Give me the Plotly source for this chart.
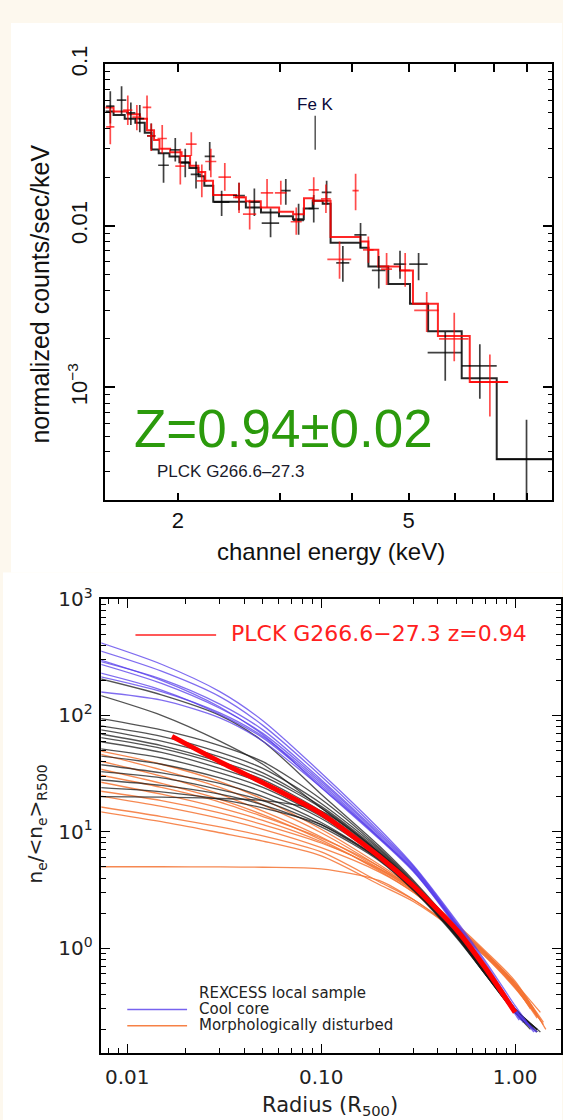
import math
import plotly.graph_objects as go

W, H = 563, 1120
def PX(x): return x / W
def PY(y): return 1 - y / H

# ---------------- top panel: X-ray spectrum ----------------
blk_model_edges = [1.50, 1.55, 1.62, 1.69, 1.754, 1.802, 1.854, 1.935, 2.013, 2.094, 2.17, 2.222, 2.302, 2.62, 2.782,
                   2.988, 3.158, 3.297, 3.416, 3.554, 3.667, 4.128, 4.261, 4.61, 5.025, 5.40, 6.17, 7.09, 8.84]
blk_model_vals = [0.051, 0.0485, 0.046, 0.0435, 0.0376, 0.0297, 0.0281, 0.0269, 0.0247, 0.0228, 0.0203, 0.0177, 0.0141,
                  0.0130, 0.0121, 0.01146, 0.0110, 0.0128, 0.0143, 0.0137, 0.00785, 0.00732, 0.00561, 0.00436, 0.0033,
                  0.00223, 0.00114, 0.00036]
red_model_edges = [1.50, 1.55, 1.64, 1.72, 1.77, 1.82, 1.86, 1.94, 2.03, 2.10, 2.17, 2.23, 2.30, 2.52, 2.62, 2.78, 2.99,
                   3.16, 3.30, 3.42, 3.667, 4.128, 4.261, 4.432, 4.83, 5.085, 5.614, 6.37, 7.41]
red_model_vals = [0.054, 0.051, 0.049, 0.046, 0.039, 0.034, 0.030, 0.0285, 0.027, 0.0235, 0.0215, 0.019, 0.0155, 0.0150,
                  0.0142, 0.0130, 0.0122, 0.0118, 0.0148, 0.0143, 0.00854, 0.0080, 0.0071, 0.00561, 0.0053, 0.0033,
                  0.00208, 0.00108]

blk_E = [1.53, 1.60, 1.66, 1.72, 1.80, 1.89, 1.98, 2.06, 2.15, 2.27, 2.38, 2.55, 2.71, 2.89, 3.07, 3.23, 3.43, 3.61,
         3.85, 4.13, 4.44, 4.83, 5.20, 5.78, 6.63, 7.98]
blk_dE = [0.025, 0.03, 0.03, 0.03, 0.03, 0.04, 0.04, 0.04, 0.045, 0.045, 0.075, 0.06, 0.06, 0.1, 0.06, 0.07, 0.07, 0.07,
          0.1, 0.1, 0.12, 0.12, 0.19, 0.39, 0.46, 0.9]
blk_v = [0.055, 0.060, 0.050, 0.046, 0.036, 0.0237, 0.0295, 0.0245, 0.0208, 0.0269, 0.0140, 0.0154, 0.0140, 0.0104,
         0.0165, 0.0108, 0.0128, 0.0161, 0.0059, 0.0088, 0.0053, 0.0058, 0.0058, 0.00164, 0.00136, 0.00036]
blk_lo = [0.043, 0.049, 0.042, 0.038, 0.030, 0.0185, 0.025, 0.020, 0.017, 0.022, 0.0115, 0.0125, 0.0115, 0.0085, 0.0135,
          0.0088, 0.0105, 0.0135, 0.0045, 0.0073, 0.0041, 0.0047, 0.0046, 0.0011, 0.00085, 0.00015]
blk_hi = [0.068, 0.073, 0.058, 0.056, 0.043, 0.028, 0.035, 0.030, 0.025, 0.033, 0.0165, 0.0185, 0.017, 0.0128, 0.0195,
          0.0137, 0.0155, 0.019, 0.0075, 0.0104, 0.0065, 0.0070, 0.0068, 0.0022, 0.00185, 0.00063]

red_E = [1.53, 1.64, 1.70, 1.77, 1.80, 1.88, 2.02, 2.11, 2.20, 2.28, 2.41, 2.55, 2.66, 2.85, 3.01, 3.20, 3.43, 3.60,
         3.80, 4.05, 4.26, 4.58, 4.93, 5.37, 5.99, 6.90]
red_dE = [0.025, 0.03, 0.03, 0.03, 0.03, 0.035, 0.04, 0.045, 0.045, 0.05, 0.06, 0.06, 0.07, 0.07, 0.07, 0.07, 0.07, 0.07,
          0.18, 0.05, 0.09, 0.1, 0.1, 0.26, 0.35, 0.52]
red_v = [0.041, 0.052, 0.047, 0.054, 0.036, 0.0347, 0.0234, 0.0320, 0.019, 0.025, 0.0200, 0.0150, 0.0118, 0.0160, 0.0160,
         0.0106, 0.0167, 0.0147, 0.0062, 0.0165, 0.0071, 0.0054, 0.0053, 0.0030, 0.0020, 0.00108]
red_lo = [0.032, 0.042, 0.039, 0.045, 0.029, 0.028, 0.018, 0.027, 0.015, 0.020, 0.0165, 0.012, 0.0095, 0.013, 0.0135,
          0.0088, 0.0135, 0.012, 0.0047, 0.0125, 0.0059, 0.0043, 0.0042, 0.0022, 0.00145, 0.00066]
red_hi = [0.053, 0.064, 0.056, 0.064, 0.043, 0.042, 0.030, 0.038, 0.024, 0.030, 0.0245, 0.0185, 0.0145, 0.0195, 0.019,
          0.013, 0.020, 0.018, 0.0080, 0.021, 0.0086, 0.0068, 0.0068, 0.0039, 0.0029, 0.0016]

fe_k_energy = 3.45
fe_k_tip = 0.0296
top_xticks = [2, 5]
top_xticktext = ["2", "5"]
top_xminor = [3, 4, 6, 7, 8]
top_yticks = [1e-3, 1e-2, 1e-1]
top_yticktext = ["10<sup>−3</sup>", "0.01", "0.1"]

# ---------------- bottom panel: density profiles ----------------
R_GRID = [0.007, 0.015, 0.03, 0.05, 0.1, 0.2, 0.3, 0.5, 0.7, 1.0]

cool_core = [
    [430, 275, 160, 90, 32, 10.5, 5.1, 1.7, 0.78, 0.32],
    [365, 240, 145, 82, 30, 10.0, 5.0, 1.65, 0.75, 0.30],
    [295, 205, 125, 75, 28, 9.6, 4.9, 1.6, 0.72, 0.29],
    [280, 188, 115, 70, 27, 9.3, 4.8, 1.6, 0.70, 0.29],
    [218, 160, 105, 66, 26, 9.0, 4.7, 1.55, 0.68, 0.28],
    [160, 135, 95, 60, 24, 8.8, 4.6, 1.5, 0.68, 0.29],
    [305, 200, 118, 68, 24, 8.6, 4.5, 1.55, 0.70, 0.30],
    [235, 165, 102, 64, 25, 8.8, 4.6, 1.55, 0.66, 0.27],
]
cool_core_end = [(1.2, 0.21), (1.25, 0.19), (1.1, 0.23), (1.3, 0.19), (1.07, 0.24), (1.28, 0.19), (1.15, 0.22), (1.05, 0.24)]

rexcess = [
    [209, 150, 100, 60, 21, 7.5, 3.8, 1.42, 0.66, 0.30],
    [151, 100, 60, 38, 16, 6.5, 3.5, 1.35, 0.63, 0.29],
    [95, 75, 55, 40, 19, 7.2, 3.7, 1.40, 0.66, 0.30],
    [82, 66, 48, 35, 17.5, 7.0, 3.6, 1.38, 0.65, 0.30],
    [76, 60, 44, 32, 16.5, 6.8, 3.55, 1.36, 0.64, 0.29],
    [70, 55, 40, 30, 16, 6.6, 3.5, 1.35, 0.63, 0.29],
    [65, 52, 38, 28, 15, 6.4, 3.45, 1.33, 0.64, 0.30],
    [60, 48, 35, 26, 14, 6.2, 3.4, 1.30, 0.62, 0.28],
    [52, 43, 32, 24, 13.5, 6.1, 3.35, 1.30, 0.62, 0.29],
    [45, 38, 29, 22, 13, 6.0, 3.3, 1.28, 0.61, 0.28],
    [38, 32, 26, 20, 12, 5.8, 3.2, 1.25, 0.60, 0.29],
    [33, 29, 23, 18.5, 11.5, 5.7, 3.15, 1.25, 0.60, 0.28],
    [28, 25, 21, 17, 11, 5.6, 3.1, 1.22, 0.60, 0.28],
    [20, 19.8, 19.3, 18.5, 15, 6.6, 3.5, 1.30, 0.60, 0.28],
    [24, 22, 19, 16, 11.5, 5.8, 3.2, 1.25, 0.61, 0.29],
]
rexcess_end = [(1.25, 0.2), (1.2, 0.21), (1.3, 0.2), (1.35, 0.19), (1.2, 0.21), (1.3, 0.2), (1.25, 0.21), (1.15, 0.22),
               (1.3, 0.2), (1.2, 0.2), (1.3, 0.19), (1.25, 0.2), (1.2, 0.21), (1.3, 0.19), (1.25, 0.2)]

disturbed = [
    [50, 38, 27, 19, 10.5, 5.2, 3.3, 1.6, 0.95, 0.52],
    [47, 34, 24, 17, 9.8, 5.0, 3.2, 1.55, 0.92, 0.50],
    [41, 30, 21, 15, 9, 4.8, 3.1, 1.5, 0.90, 0.48],
    [31, 24, 18, 13.5, 8.8, 5.0, 3.2, 1.55, 0.92, 0.50],
    [22.5, 18.5, 14.5, 11.5, 8, 4.8, 3.2, 1.5, 0.90, 0.48],
    [20.5, 16.5, 13, 10.5, 7.3, 4.5, 3.0, 1.45, 0.88, 0.46],
    [16.5, 13.5, 11, 9.2, 6.7, 3.7, 2.6, 1.4, 0.87, 0.47],
    [15, 12.2, 9.8, 8.3, 6.2, 3.5, 2.5, 1.38, 0.85, 0.45],
    [5, 5, 4.98, 4.95, 4.8, 3.8, 2.6, 1.38, 0.85, 0.46],
    [35, 26, 19, 14, 8.5, 4.6, 3.0, 1.48, 0.90, 0.50],
    [27, 21, 16, 12.5, 8.2, 4.7, 3.1, 1.5, 0.90, 0.48],
]
disturbed_end = [(1.44, 0.2), (1.35, 0.28), (1.3, 0.26), (1.25, 0.3), (1.4, 0.22), (1.3, 0.26), (1.2, 0.3), (1.35, 0.24),
                 (1.3, 0.25), (1.4, 0.23), (1.3, 0.27)]

plck_r = [0.017, 0.03, 0.054, 0.1, 0.2, 0.3, 0.5, 0.7, 1.0]
plck_n = [66, 40, 24.7, 14.3, 6.1, 3.4, 1.43, 0.68, 0.28]

bot_xticks = [0.01, 0.1, 1.0]
bot_xticktext = ["0.01", "0.10", "1.00"]
bot_yticks = [1, 10, 100, 1000]
bot_yticktext = ["10<sup>0</sup>", "10<sup>1</sup>", "10<sup>2</sup>", "10<sup>3</sup>"]

# ---------------- figure ----------------
fig = go.Figure()

fig.add_trace(go.Scatter(x=blk_model_edges, y=blk_model_vals + [blk_model_vals[-1]], mode="lines", line_shape="hv",
                         line=dict(color="rgba(0,0,0,0.85)", width=2), xaxis="x", yaxis="y", showlegend=False))
fig.add_trace(go.Scatter(x=red_model_edges, y=red_model_vals + [red_model_vals[-1]], mode="lines", line_shape="hv",
                         line=dict(color="rgba(255,0,0,0.85)", width=2), xaxis="x", yaxis="y", showlegend=False))

def cross_trace(E, dE, v, lo, hi, color):
    return go.Scatter(
        x=E, y=v, mode="markers", marker=dict(size=1, color=color, opacity=0),
        error_x=dict(type="data", array=dE, color=color, thickness=1.7, width=0),
        error_y=dict(type="data", symmetric=False, array=[h - c for h, c in zip(hi, v)],
                     arrayminus=[c - l for c, l in zip(v, lo)], color=color, thickness=1.7, width=0),
        xaxis="x", yaxis="y", showlegend=False)

fig.add_trace(cross_trace(blk_E, blk_dE, blk_v, blk_lo, blk_hi, "rgba(0,0,0,0.75)"))
fig.add_trace(cross_trace(red_E, red_dE, red_v, red_lo, red_hi, "rgba(255,0,0,0.7)"))

def prof(vals, end, color, width=1.3):
    return go.Scatter(x=R_GRID + [end[0]], y=vals + [end[1]], mode="lines",
                      line=dict(color=color, width=width, shape="spline", smoothing=0.8),
                      xaxis="x2", yaxis="y2", showlegend=False)

for vals, end in zip(disturbed, disturbed_end):
    fig.add_trace(prof(vals, end, "rgba(245,115,50,0.85)"))
for vals, end in zip(rexcess, rexcess_end):
    fig.add_trace(prof(vals, end, "rgba(25,25,25,0.75)"))
for vals, end in zip(cool_core, cool_core_end):
    fig.add_trace(prof(vals, end, "rgba(85,60,235,0.75)"))
fig.add_trace(go.Scatter(x=plck_r, y=plck_n, mode="lines",
                         line=dict(color="#ff0000", width=5, shape="spline", smoothing=0.6),
                         xaxis="x2", yaxis="y2", showlegend=False))

top_font = dict(family="Liberation Sans, Arial, sans-serif", color="#111111")
bot_font = dict(family="DejaVu Sans, sans-serif", color="#222222")

def minor_vals(e0, e1):
    return [m * 10 ** e for e in range(e0, e1) for m in range(2, 10)]

axis_common = dict(type="log", showgrid=False, zeroline=False, showline=True, linecolor="black",
                   mirror="ticks", ticks="inside", tickcolor="black")

fig.update_layout(
    width=W, height=H, margin=dict(l=0, r=0, t=0, b=0),
    paper_bgcolor="#fdf8ee", plot_bgcolor="white", showlegend=False,
    xaxis=dict(axis_common, domain=[105.5 / W, 553.3 / W], anchor="y",
               range=[math.log10(1.5), math.log10(8.84)], linewidth=1.5, tickwidth=1.5, ticklen=8,
               tickvals=top_xticks, ticktext=top_xticktext, tickfont=dict(top_font, size=22),
               ticklabelstandoff=-1,
               minor=dict(ticks="inside", ticklen=8, tickwidth=1.5, tickcolor="black",
                          tickvals=top_xminor, showgrid=False)),
    yaxis=dict(axis_common, domain=[PY(489.7), PY(46)], anchor="x",
               range=[math.log10(2e-4), -1], linewidth=1.5, tickwidth=1.5, ticklen=10,
               tickvals=top_yticks, ticktext=top_yticktext, tickangle=-90, tickfont=dict(top_font, size=22),
               ticklabelstandoff=8,
               minor=dict(ticks="inside", ticklen=5, tickwidth=1.2, tickcolor="black",
                          tickvals=minor_vals(-4, -1), showgrid=False)),
    xaxis2=dict(axis_common, domain=[101.5 / W, 562 / W], anchor="y2",
                range=[-2.134, 0.2367], linewidth=1.5, tickwidth=1.3, ticklen=9,
                tickvals=bot_xticks, ticktext=bot_xticktext, tickfont=dict(bot_font, size=20),
                ticklabelstandoff=5,
                minor=dict(ticks="inside", ticklen=5, tickwidth=1.1, tickcolor="black",
                           tickvals=minor_vals(-3, 1), showgrid=False)),
    yaxis2=dict(axis_common, domain=[PY(1052), PY(590)], anchor="x2",
                range=[-0.903, 3], linewidth=1.5, tickwidth=1.3, ticklen=9,
                tickvals=bot_yticks, ticktext=bot_yticktext, tickfont=dict(bot_font, size=20),
                ticklabelstandoff=3,
                minor=dict(ticks="inside", ticklen=5, tickwidth=1.1, tickcolor="black",
                           tickvals=minor_vals(-1, 3), showgrid=False)),
)

shapes = [
    dict(type="rect", xref="paper", yref="paper", x0=PX(11), x1=1, y0=PY(563), y1=PY(4),
         fillcolor="white", line=dict(width=0), layer="below"),
    dict(type="rect", xref="paper", yref="paper", x0=PX(3), x1=1, y0=0, y1=PY(563),
         fillcolor="white", line=dict(width=0), layer="below"),
    dict(type="line", xref="paper", yref="paper", x0=PX(135.7), x1=PX(216.5), y0=PY(626.7), y1=PY(626.7),
         line=dict(color="#ff2020", width=1.5)),
    dict(type="line", xref="paper", yref="paper", x0=PX(127.5), x1=PX(187.4), y0=PY(1007.7), y1=PY(1007.7),
         line=dict(color="rgba(85,60,235,0.8)", width=1.5)),
    dict(type="line", xref="paper", yref="paper", x0=PX(127.5), x1=PX(187.4), y0=PY(1024), y1=PY(1024),
         line=dict(color="rgba(245,115,50,0.9)", width=1.5)),
]
fig.update_layout(shapes=shapes)

ann = [
    dict(text="normalized counts/sec/keV", x=PX(40.4), y=PY(280), textangle=-90, font=dict(top_font, size=25)),
    dict(text="channel energy (keV)", x=PX(331.2), y=PY(541.7), font=dict(top_font, size=24)),
    dict(text="Z=0.94±0.02", x=PX(284.5), y=PY(416.7), font=dict(family="Liberation Sans, Arial, sans-serif",
                                                                  size=53, color="#2b9a0c")),
    dict(text="PLCK G266.6–27.3", x=PX(155.5), y=PY(460.7), xanchor="left", font=dict(top_font, size=17, color="#1a1a2a")),
    dict(text="n<sub>e</sub>/&lt;n<sub>e</sub>&gt;<sub>R500</sub>", x=PX(36), y=PY(818.5), textangle=-90,
         font=dict(bot_font, size=20)),
    dict(text="Radius (R<sub>500</sub>)", x=PX(331), y=PY(1106), font=dict(bot_font, size=21)),
    dict(text="PLCK G266.6−27.3 z=0.94", x=PX(229.8), y=PY(625), xanchor="left",
         font=dict(family="DejaVu Sans, sans-serif", size=22, color="#ff2020")),
    dict(text="REXCESS local sample", x=PX(197.5), y=PY(991), xanchor="left", font=dict(bot_font, size=15)),
    dict(text="Cool core", x=PX(197.5), y=PY(1007), xanchor="left", font=dict(bot_font, size=15)),
    dict(text="Morphologically disturbed", x=PX(197.5), y=PY(1023.3), xanchor="left", font=dict(bot_font, size=15)),
]
for a in ann:
    a.setdefault("xref", "paper")
    a.setdefault("yref", "paper")
    a.setdefault("showarrow", False)
    a.setdefault("xanchor", "center")
    a.setdefault("yanchor", "middle")
fig.update_layout(annotations=ann)
fig.add_annotation(text="Fe K", xref="x", yref="y", x=math.log10(fe_k_energy), y=math.log10(fe_k_tip),
                   showarrow=True, arrowhead=0, arrowwidth=1.5, arrowcolor="#555555", ax=0, ay=-45,
                   standoff=0, font=dict(top_font, size=17, color="#0a0a3a"))

fig.write_html("out.html")
